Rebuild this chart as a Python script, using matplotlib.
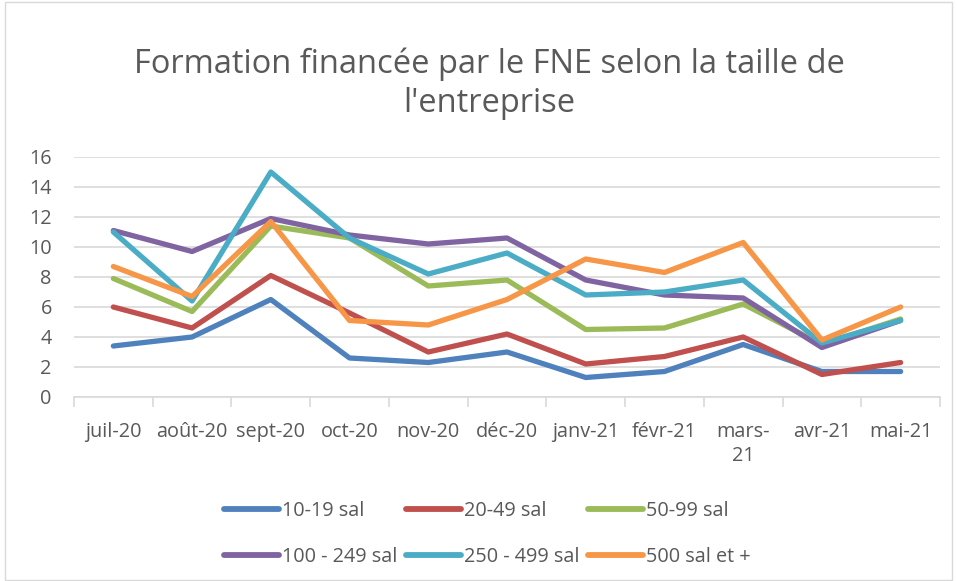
import numpy as np
import matplotlib.pyplot as plt
from matplotlib.patches import Rectangle

months = ["juil-20", "août-20", "sept-20", "oct-20", "nov-20", "déc-20",
          "janv-21", "févr-21", "mars-\n21", "avr-21", "mai-21"]

s10_19 = [3.4, 4.0, 6.5, 2.6, 2.3, 3.0, 1.3, 1.7, 3.5, 1.7, 1.7]
s20_49 = [6.0, 4.6, 8.1, 5.6, 3.0, 4.2, 2.2, 2.7, 4.0, 1.5, 2.3]
s50_99 = [7.9, 5.7, 11.4, 10.6, 7.4, 7.8, 4.5, 4.6, 6.2, 3.5, 5.2]
s100_249 = [11.1, 9.7, 11.9, 10.8, 10.2, 10.6, 7.8, 6.8, 6.6, 3.3, 5.1]
s250_499 = [11.0, 6.4, 15.0, 10.6, 8.2, 9.6, 6.8, 7.0, 7.8, 3.6, 5.1]
s500 = [8.7, 6.7, 11.7, 5.1, 4.8, 6.5, 9.2, 8.3, 10.3, 3.8, 6.0]

series = [
    ("10-19 sal", s10_19, "#4F81BD"),
    ("20-49 sal", s20_49, "#C0504D"),
    ("50-99 sal", s50_99, "#9BBB59"),
    ("100 - 249 sal", s100_249, "#8064A2"),
    ("250 - 499 sal", s250_499, "#4BACC6"),
    ("500 sal et +", s500, "#F79646"),
]

plt.rcParams['font.family'] = ['Open Sans', 'DejaVu Sans']
text_col = "#595959"
grid_col = "#D9D9D9"

fig = plt.figure(figsize=(9.57, 5.81), dpi=100)
ax = fig.add_axes([74 / 957, 1 - 397 / 581, 866 / 957, 240 / 581])

x = np.arange(len(months))
lines = []
for name, vals, col in series:
    ln, = ax.plot(x, vals, color=col, linewidth=3.8, label=name,
                  solid_capstyle='round', solid_joinstyle='round')
    lines.append(ln)

ax.set_xlim(-0.5, len(months) - 0.5)
ax.set_ylim(0, 16)
ax.set_yticks(range(0, 17, 2))
ax.yaxis.grid(True, color=grid_col, linewidth=1.2)
ax.set_axisbelow(True)
for side in ["top", "right", "left"]:
    ax.spines[side].set_visible(False)
ax.spines["bottom"].set_color(grid_col)
ax.spines["bottom"].set_linewidth(1.2)

ax.set_xticks(np.arange(-0.5, len(months), 1.0))
ax.set_xticklabels([])
ax.tick_params(axis='x', which='major', length=7, color=grid_col, width=1.2)
ax.set_xticks(x, minor=True)
ax.set_xticklabels(months, minor=True, fontsize=14.3, color=text_col,
                   linespacing=1.25)
ax.tick_params(axis='x', which='minor', length=0, pad=18)
ax.tick_params(axis='y', length=0, labelsize=14.3, labelcolor=text_col, pad=16)

fig.suptitle("Formation financée par le FNE selon la taille de\nl'entreprise",
             x=0.511, y=0.856, va='center', fontsize=23.5, color=text_col,
             linespacing=1.25)

order = [0, 3, 1, 4, 2, 5]
leg = fig.legend([lines[i] for i in order], [series[i][0] for i in order],
                 loc='center', bbox_to_anchor=(0.509, 0.081), ncol=3,
                 frameon=False, fontsize=14.3, labelcolor=text_col,
                 handlelength=2.75, handletextpad=0.15, columnspacing=0.45,
                 labelspacing=1.35)
for h in leg.legend_handles:
    h.set_linewidth(4.2)

fig.patches.append(Rectangle((5 / 957, 0.002), 1 - 10 / 957, 0.994,
                             transform=fig.transFigure, fill=False,
                             edgecolor="#D9D9D9", linewidth=1))

fig.savefig("out.png", dpi=100)
plt.close(fig)
